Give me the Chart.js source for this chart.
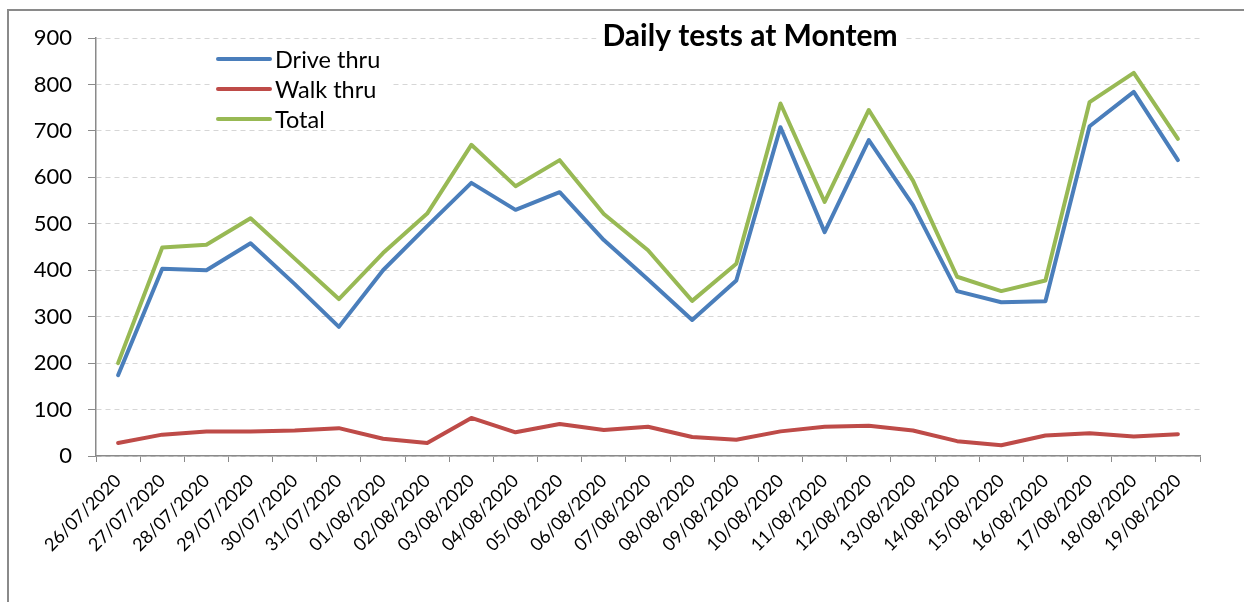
<!DOCTYPE html>
<html>
<head>
<meta charset="utf-8">
<script src="https://cdn.jsdelivr.net/npm/chart.js@4/dist/chart.umd.min.js"></script>
<style>
  html, body { margin: 0; padding: 0; background: #fff; }
</style>
</head>
<body>
<canvas id="chart" width="1244" height="602"></canvas>
<script>
const dates = [
  '26/07/2020', '27/07/2020', '28/07/2020', '29/07/2020', '30/07/2020', '31/07/2020',
  '01/08/2020', '02/08/2020', '03/08/2020', '04/08/2020', '05/08/2020', '06/08/2020',
  '07/08/2020', '08/08/2020', '09/08/2020', '10/08/2020', '11/08/2020', '12/08/2020',
  '13/08/2020', '14/08/2020', '15/08/2020', '16/08/2020', '17/08/2020', '18/08/2020',
  '19/08/2020'
];
const driveThru = [174, 403, 400, 458, 370, 278, 400, 495, 588, 530, 568, 465, 380, 293, 378, 708, 482, 680, 540, 355, 331, 333, 710, 784, 637];
const walkThru = [28, 46, 53, 53, 55, 60, 37, 28, 82, 51, 69, 56, 63, 41, 35, 53, 63, 65, 55, 32, 23, 44, 49, 42, 47];
const total = [200, 449, 455, 512, 425, 338, 437, 522, 670, 581, 637, 521, 443, 334, 414, 759, 547, 745, 593, 386, 355, 378, 762, 825, 683];
const yMin = 0;
const yMax = 900;
const yStep = 100;
const chartTitle = 'Daily tests at Montem';

const FONT = 'Lato, "Open Sans", sans-serif';

// frame, title and the legend box sit on top of the plot like in excel
const overlay = {
  id: 'overlay',
  beforeDraw(chart) {
    const ctx = chart.ctx;
    ctx.save();
    ctx.strokeStyle = '#8a8a8a';
    ctx.lineWidth = 2;
    ctx.beginPath();
    ctx.moveTo(8, 602);
    ctx.lineTo(8, 10);
    ctx.lineTo(1244, 10);
    ctx.stroke();
    ctx.restore();
  },
  afterDraw(chart) {
    const ctx = chart.ctx;
    ctx.save();

    ctx.font = 'bold 30px ' + FONT;
    const tw = ctx.measureText(chartTitle).width;
    ctx.fillStyle = '#fff';
    ctx.fillRect(750 - tw / 2 - 6, 18, tw + 12, 34);
    ctx.fillStyle = '#000';
    ctx.textAlign = 'center';
    ctx.textBaseline = 'middle';
    ctx.fillText(chartTitle, 750, 36);

    ctx.fillStyle = '#fff';
    ctx.fillRect(213, 44, 177, 83);
    ctx.font = '23.5px ' + FONT;
    ctx.textAlign = 'left';
    chart.data.datasets.forEach((ds, i) => {
      const y = 59 + i * 30;
      ctx.strokeStyle = ds.borderColor;
      ctx.lineWidth = 4;
      ctx.lineCap = 'round';
      ctx.beginPath();
      ctx.moveTo(218, y);
      ctx.lineTo(270, y);
      ctx.stroke();
      ctx.fillStyle = '#000';
      ctx.fillText(ds.label, 275, y + 1);
    });
    ctx.restore();
  }
};

const lineStyle = {
  borderWidth: 4,
  pointRadius: 0,
  tension: 0,
  fill: false,
  borderJoinStyle: 'round',
  borderCapStyle: 'round'
};

new Chart(document.getElementById('chart'), {
  type: 'line',
  data: {
    labels: dates,
    datasets: [
      { label: 'Drive thru', data: driveThru, borderColor: '#4a7ebb', order: 2, ...lineStyle },
      { label: 'Walk thru', data: walkThru, borderColor: '#be4b48', order: 1, ...lineStyle },
      { label: 'Total', data: total, borderColor: '#98b954', order: 0, ...lineStyle }
    ]
  },
  options: {
    responsive: false,
    animation: false,
    layout: { padding: { left: 0, right: 44, top: 38, bottom: 0 } },
    plugins: {
      legend: { display: false },
      title: { display: false },
      tooltip: { enabled: false }
    },
    scales: {
      x: {
        offset: true,
        afterFit: (scale) => { scale.height = 146; },
        grid: { offset: true, drawOnChartArea: false, color: '#8a8a8a', tickLength: 6 },
        border: { color: '#8a8a8a', width: 1.5 },
        ticks: {
          autoSkip: false,
          minRotation: 45,
          maxRotation: 45,
          padding: 8,
          color: '#000',
          font: { family: FONT, size: 18 }
        }
      },
      y: {
        min: yMin,
        max: yMax,
        afterFit: (scale) => { scale.width = 96; },
        grid: { color: '#d6d6d6', tickColor: '#8a8a8a', tickLength: 8 },
        border: { color: '#8a8a8a', width: 1.5, dash: [5, 4] },
        ticks: {
          stepSize: yStep,
          padding: 16,
          color: '#000',
          font: { family: FONT, size: 22 }
        }
      }
    }
  },
  plugins: [overlay]
});
</script>
</body>
</html>
